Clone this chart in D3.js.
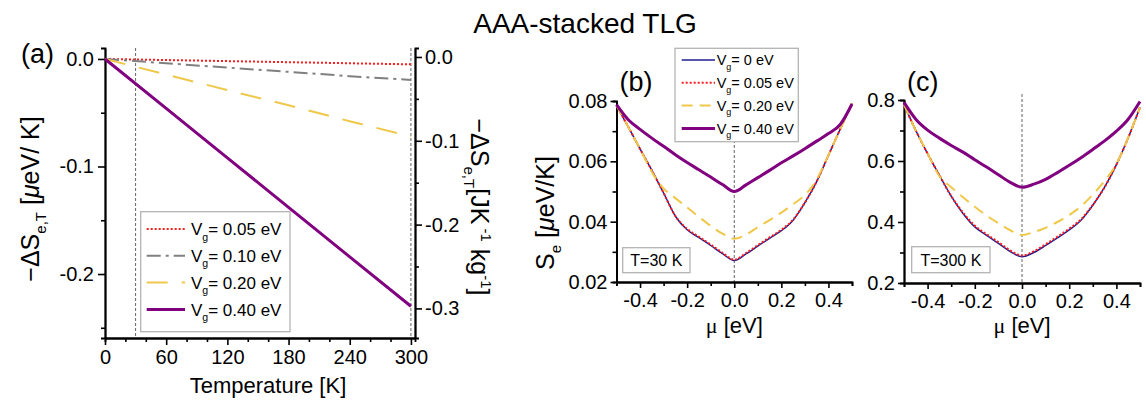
<!DOCTYPE html>
<html>
<head>
<meta charset="utf-8">
<script src="https://cdn.jsdelivr.net/npm/d3@7"></script>
<style>
  body { margin: 0; background: #fff; }
  svg text { font-family: "Liberation Sans", Arial, sans-serif; fill: #000; }
</style>
</head>
<body>
<svg id="fig" width="1146" height="402"></svg>
<script>
// ---------- data: panel (a), temperature dependence ----------
const temps = [0, 60, 120, 180, 240, 300];
const dS_005 = [0, -0.001, -0.002, -0.003, -0.004, -0.005];
const dS_010 = [0, -0.004, -0.008, -0.012, -0.016, -0.0195];
const dS_020 = [0, -0.0145, -0.029, -0.043, -0.058, -0.072];
const dS_040 = [0, -0.046, -0.092, -0.138, -0.184, -0.230];
const legendA = ["0.05", "0.10", "0.20", "0.40"];
const refTemps = [30, 300];

// ---------- data: panels (b) and (c), chemical potential dependence ----------
const mu = [-0.5, -0.45, -0.4, -0.35, -0.3, -0.25, -0.2, -0.15, -0.1, -0.05, 0,
            0.05, 0.1, 0.15, 0.2, 0.25, 0.3, 0.35, 0.4, 0.45, 0.5];
// T = 30 K
const seB_000 = [0.0785, 0.0714, 0.0641, 0.0570, 0.0495, 0.0418, 0.0373, 0.0347, 0.0321, 0.0294, 0.0271,
                 0.0293, 0.0319, 0.0345, 0.0370, 0.0405, 0.0463, 0.0533, 0.0620, 0.0707, 0.0792];
const seB_005 = [0.0785, 0.0714, 0.0641, 0.0570, 0.0495, 0.0419, 0.0376, 0.0350, 0.0324, 0.0297, 0.0274,
                 0.0296, 0.0322, 0.0348, 0.0373, 0.0407, 0.0463, 0.0533, 0.0620, 0.0707, 0.0792];
const seB_020 = [0.0785, 0.0714, 0.0641, 0.0565, 0.0510, 0.0478, 0.0447, 0.0416, 0.0386, 0.0360, 0.0343,
                 0.0357, 0.0382, 0.0405, 0.0430, 0.0458, 0.0488, 0.0540, 0.0621, 0.0707, 0.0792];
const seB_040 = [0.0788, 0.0738, 0.0706, 0.0677, 0.0650, 0.0622, 0.0596, 0.0572, 0.0548, 0.0523, 0.0500,
                 0.0522, 0.0546, 0.0570, 0.0595, 0.0618, 0.0642, 0.0667, 0.0692, 0.0722, 0.0790];
// T = 300 K
const seC_000 = [0.785, 0.700, 0.624, 0.553, 0.485, 0.428, 0.384, 0.356, 0.330, 0.303, 0.286,
                 0.300, 0.323, 0.348, 0.374, 0.406, 0.455, 0.514, 0.588, 0.676, 0.776];
const seC_005 = [0.785, 0.700, 0.624, 0.553, 0.485, 0.431, 0.388, 0.360, 0.334, 0.307, 0.290,
                 0.304, 0.327, 0.352, 0.378, 0.409, 0.456, 0.514, 0.588, 0.676, 0.776];
const seC_020 = [0.785, 0.700, 0.625, 0.550, 0.514, 0.481, 0.450, 0.421, 0.396, 0.373, 0.357,
                 0.367, 0.381, 0.400, 0.423, 0.451, 0.490, 0.535, 0.590, 0.677, 0.776];
const seC_040 = [0.792, 0.737, 0.701, 0.675, 0.651, 0.629, 0.604, 0.580, 0.555, 0.530, 0.514,
                 0.524, 0.540, 0.562, 0.586, 0.611, 0.638, 0.666, 0.698, 0.737, 0.795];
const legendB = ["0", "0.05", "0.20", "0.40"];

// ---------- tick values ----------
const ticksA_x = [0, 60, 120, 180, 240, 300];
const ticksA_y = [0, -0.1, -0.2];
const ticksA_yR = [0, -0.1, -0.2, -0.3];
const ticksMu = [-0.4, -0.2, 0, 0.2, 0.4];
const ticksB_y = [0.02, 0.04, 0.06, 0.08];
const ticksC_y = [0.2, 0.4, 0.6, 0.8];

// ---------- line styles ----------
const styles = {
  navy:   { stroke: "#1f1f92", width: 1.5, dash: null },
  red:    { stroke: "#ff1a1a", width: 2,   dash: "2,2" },
  gray:   { stroke: "#808080", width: 2,   dash: "14,5,3,5" },
  yellow: { stroke: "#efc84a", width: 2,   dash: "11,7" },
  purple: { stroke: "#800080", width: 3,   dash: null }
};

const svg = d3.select("#fig");
const AX_W = 1.8;

function styleAxis(g) {
  g.selectAll("path.domain").attr("stroke", "#000").attr("stroke-width", AX_W);
  g.selectAll(".tick line").attr("stroke", "#000").attr("stroke-width", 1.6);
  g.selectAll(".tick text").attr("font-size", 20).attr("font-family", "Liberation Sans, Arial, sans-serif");
}

function drawSeries(g, xs, ys, x, y, st, curve) {
  const pts = xs.map((v, i) => [v, ys[i]]);
  g.append("path")
    .attr("d", d3.line().x(d => x(d[0])).y(d => y(d[1])).curve(curve)(pts))
    .attr("fill", "none")
    .attr("stroke", st.stroke)
    .attr("stroke-width", st.width)
    .attr("stroke-dasharray", st.dash)
    .attr("stroke-linejoin", "round");
}

function addVg(textSel, val, fs) {
  textSel.append("tspan").text("V");
  textSel.append("tspan").attr("font-size", fs * 0.62).attr("dy", fs * 0.32).text("g");
  textSel.append("tspan").attr("dy", -fs * 0.32).text("= " + val + " eV");
}

function legend(g, x0, y0, w, h, rows, st, fs, lineX0, lineX1, textX, rowY0, rowDy) {
  g.append("rect").attr("x", x0).attr("y", y0).attr("width", w).attr("height", h)
    .attr("fill", "#fff").attr("stroke", "#b4b4b4").attr("stroke-width", 1.3);
  rows.forEach((r, i) => {
    const yy = rowY0 + i * rowDy;
    g.append("line").attr("x1", lineX0).attr("x2", lineX1).attr("y1", yy).attr("y2", yy)
      .attr("stroke", st[i].stroke).attr("stroke-width", st[i].width)
      .attr("stroke-dasharray", st[i].dash);
    const t = g.append("text").attr("x", textX).attr("y", yy + fs * 0.36).attr("font-size", fs);
    addVg(t, r, fs);
  });
}

// ================= Title =================
svg.append("text").attr("x", 585).attr("y", 33).attr("text-anchor", "middle")
  .attr("font-size", 28).text("AAA-stacked TLG");

// ================= Panel (a) =================
{
  const L = 105, R = 415, T = 48, B = 338;
  const x = d3.scaleLinear().domain([0, 304]).range([L, R]);
  const y = d3.scaleLinear().domain([-0.2595, 0.0102]).range([B, T]);
  const yR = d3.scaleLinear().domain([-0.3353, 0.0107]).range([B, T]);
  const g = svg.append("g");

  // reference temperatures
  refTemps.forEach(t => {
    g.append("line").attr("x1", x(t)).attr("x2", x(t)).attr("y1", T).attr("y2", B)
      .attr("stroke", "#555").attr("stroke-width", 0.9).attr("stroke-dasharray", "3,2");
  });

  // minor ticks
  g.append("g").attr("transform", `translate(0,${B})`)
    .call(d3.axisBottom(x).tickValues(d3.range(20, 304, 20).filter(v => v % 60 !== 0)).tickSize(4).tickFormat(""))
    .call(styleAxis);
  g.append("g").attr("transform", `translate(${L},0)`)
    .call(d3.axisLeft(y).tickValues([-0.05, -0.15, -0.25]).tickSize(4).tickFormat(""))
    .call(styleAxis);
  g.append("g").attr("transform", `translate(${R},0)`)
    .call(d3.axisRight(yR).tickValues([-0.05, -0.15, -0.25]).tickSize(4).tickFormat(""))
    .call(styleAxis);
  // major axes
  g.append("g").attr("transform", `translate(0,${B})`)
    .call(d3.axisBottom(x).tickValues(ticksA_x).tickSize(7).tickSizeOuter(0).tickPadding(5).tickFormat(d => d))
    .call(styleAxis);
  g.append("g").attr("transform", `translate(${L},0)`)
    .call(d3.axisLeft(y).tickValues(ticksA_y).tickSize(7).tickSizeOuter(0).tickPadding(4).tickFormat(d => d.toFixed(1)))
    .call(styleAxis);
  g.append("g").attr("transform", `translate(${R},0)`)
    .call(d3.axisRight(yR).tickValues(ticksA_yR).tickSize(7).tickSizeOuter(0).tickPadding(3).tickFormat(d => d.toFixed(1)))
    .call(styleAxis);

  const seriesA = [dS_005, dS_010, dS_020, dS_040];
  const stA = [styles.red, styles.gray, Object.assign({}, styles.yellow, { dash: "21,14" }), styles.purple];
  seriesA.forEach((s, i) => drawSeries(g, temps, s, x, y, stA[i], d3.curveLinear));

  legend(g, 140.7, 211.7, 149.3, 120, legendA, stA, 17, 146.7, 185, 191, 229, 26.8);

  // axis titles
  g.append("text").attr("x", 268).attr("y", 393).attr("text-anchor", "middle")
    .attr("font-size", 22).text("Temperature [K]");

  const tl = g.append("text").attr("transform", "translate(39,199) rotate(-90)")
    .attr("text-anchor", "middle").attr("font-size", 25);
  tl.append("tspan").text("\u2212\u0394S");
  tl.append("tspan").attr("font-size", 15).attr("dy", 7).text("e,T");
  tl.append("tspan").attr("dy", -7).text(" [");
  tl.append("tspan").attr("font-style", "italic").text("\u03bc");
  tl.append("tspan").text("eV/ K]");

  const tr = g.append("text").attr("transform", "translate(471,207) rotate(90)")
    .attr("text-anchor", "middle").attr("font-size", 25);
  tr.append("tspan").text("\u2212\u0394S");
  tr.append("tspan").attr("font-size", 15).attr("dy", 7).text("e,T");
  tr.append("tspan").attr("dy", -7).text("[JK");
  tr.append("tspan").attr("font-size", 15).attr("dy", -10).text(" -1");
  tr.append("tspan").attr("dy", 10).text(" kg");
  tr.append("tspan").attr("font-size", 15).attr("dy", -10).text("-1");
  tr.append("tspan").attr("dy", 10).text("]");

  g.append("text").attr("x", 21).attr("y", 63).attr("font-size", 27).text("(a)");
}

// ================= Panels (b) and (c) =================
function muPanel(opt) {
  const { L, R, T, B, ydom, yTicks, yMinor, fmt, series, label, tLabel, tBox, yTitle } = opt;
  const x = d3.scaleLinear().domain([-0.5, 0.5]).range([L, R]);
  const y = d3.scaleLinear().domain(ydom).range([B, T]);
  const g = svg.append("g");

  // μ = 0 reference line
  g.append("line").attr("x1", x(0)).attr("x2", x(0)).attr("y1", T - 6).attr("y2", B)
    .attr("stroke", "#666").attr("stroke-width", 1).attr("stroke-dasharray", "3,2");

  g.append("g").attr("transform", `translate(0,${B})`)
    .call(d3.axisBottom(x).tickValues([-0.5, -0.3, -0.1, 0.1, 0.3, 0.5]).tickSize(4).tickFormat(""))
    .call(styleAxis);
  g.append("g").attr("transform", `translate(${L},0)`)
    .call(d3.axisLeft(y).tickValues(yMinor).tickSize(4).tickFormat(""))
    .call(styleAxis);
  g.append("g").attr("transform", `translate(0,${B})`)
    .call(d3.axisBottom(x).tickValues(ticksMu).tickSize(6).tickSizeOuter(0).tickPadding(5).tickFormat(d => d.toFixed(1)))
    .call(styleAxis);
  g.append("g").attr("transform", `translate(${L},0)`)
    .call(d3.axisLeft(y).tickValues(yTicks).tickSize(6).tickSizeOuter(0).tickPadding(3).tickFormat(fmt))
    .call(styleAxis);

  const st = [styles.navy, styles.red, styles.yellow, styles.purple];
  series.forEach((s, i) => drawSeries(g, mu, s, x, y, st[i], d3.curveMonotoneX));

  // temperature box
  g.append("rect").attr("x", tBox[0]).attr("y", tBox[1]).attr("width", tBox[2]).attr("height", tBox[3])
    .attr("fill", "#fff").attr("stroke", "#b4b4b4").attr("stroke-width", 1.3);
  g.append("text").attr("x", tBox[0] + tBox[2] / 2).attr("y", tBox[1] + tBox[3] / 2 + 6)
    .attr("text-anchor", "middle").attr("font-size", 16).text(tLabel);

  // axis titles
  const xt = g.append("text").attr("x", x(0)).attr("y", 333).attr("text-anchor", "middle").attr("font-size", 22);
  xt.append("tspan").attr("font-family", "Liberation Serif, serif").text("\u03bc");
  xt.append("tspan").text(" [eV]");

  if (yTitle) {
    const yt = g.append("text").attr("transform", `translate(${yTitle[0]},${yTitle[1]}) rotate(-90)`)
      .attr("text-anchor", "middle").attr("font-size", 25);
    yt.append("tspan").text("S");
    yt.append("tspan").attr("font-size", 15).attr("dy", 7).text("e");
    yt.append("tspan").attr("dy", -7).text(" [");
    yt.append("tspan").attr("font-style", "italic").text("\u03bc");
    yt.append("tspan").text("eV/K]");
  }

  g.append("text").attr("x", L + 3).attr("y", 91).attr("font-size", 27).text(label);
  return g;
}

const gB = muPanel({
  L: 616.5, R: 852, T: 101, B: 282, ydom: [0.02, 0.08],
  yTicks: ticksB_y, yMinor: [0.03, 0.05, 0.07], fmt: d => d.toFixed(2),
  series: [seB_000, seB_005, seB_020, seB_040], label: "(b)", tLabel: "T=30 K",
  tBox: [622.7, 247.7, 67.3, 25], yTitle: [554, 213]
});
legend(gB, 675, 48.3, 123.3, 93.4, legendB,
  [styles.navy, styles.red, styles.yellow, styles.purple], 14.5, 681.7, 715, 716.7, 60, 22.8);

muPanel({
  L: 904, R: 1140, T: 100, B: 283, ydom: [0.2, 0.8],
  yTicks: ticksC_y, yMinor: [0.3, 0.5, 0.7], fmt: d => d.toFixed(1),
  series: [seC_000, seC_005, seC_020, seC_040], label: "(c)", tLabel: "T=300 K",
  tBox: [911.7, 246.7, 78.3, 26], yTitle: null
});
</script>
</body>
</html>
